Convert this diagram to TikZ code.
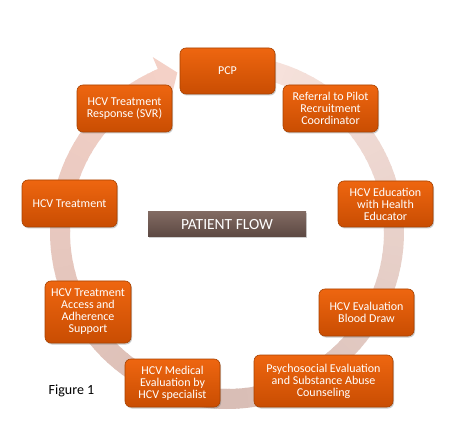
\documentclass[tikz,border=0pt]{standalone}
\usepackage{fontspec}
\setmainfont{Carlito}
\usetikzlibrary{shadows,calc}
\definecolor{ringA}{HTML}{F8E4DE}
\definecolor{ringB}{HTML}{D8BDB5}
\definecolor{ringC}{HTML}{F4D1C7}
\definecolor{boxTop}{HTML}{EE6610}
\definecolor{boxBot}{HTML}{C94D02}
\definecolor{boxEdge}{HTML}{A84200}
\definecolor{pfTop}{HTML}{816A62}
\definecolor{pfBot}{HTML}{5C4842}
\tikzset{
  stepbox/.style={rounded corners=6pt, top color=boxTop, bottom color=boxBot,
    draw=boxEdge, line width=0.6pt, text=white, align=center, inner sep=2pt,
    font=\fontsize{12}{12}\selectfont,
    drop shadow={shadow xshift=1pt, shadow yshift=-1.5pt, opacity=0.35, fill=black!60}},
  titlebox/.style={top color=pfTop, bottom color=pfBot, draw=none, text=white,
    font=\fontsize{15.5}{17}\selectfont, minimum width=158pt, minimum height=25pt,
    drop shadow={shadow xshift=1pt, shadow yshift=-1.5pt, opacity=0.3, fill=black!60}},
  ringseg/.style={line width=20pt}
}
\begin{document}
\begin{tikzpicture}[x=1pt,y=1pt]
\useasboundingbox (0,0) rectangle (454,444);
\fill[white] (0,0) rectangle (454,444);
\coordinate (c) at (227,212);
% ring
\foreach \a in {85,82,...,-90} {
  \pgfmathtruncatemacro\p{(\a+90)/175*100}
  \draw[ringseg, color=ringA!\p!ringB] ([shift={(\a:167)}]c) arc[start angle=\a, end angle=\a-3.6, radius=167];
}
\foreach \a in {-90,-93,...,-243} {
  \pgfmathtruncatemacro\p{(-90-\a)/157*100}
  \draw[ringseg, color=ringC!\p!ringB] ([shift={(\a:167)}]c) arc[start angle=\a, end angle=\a-3.6, radius=167];
}
\draw[ringseg, color=ringC] ([shift={(-245:167)}]c) arc[start angle=-245, end angle=-247.2, radius=167];
\fill[ringC] ($(c)+(113:190)$) -- ($(c)+(107.3:167)$) -- ($(c)+(113:144)$) -- cycle;
% boxes
\node[stepbox, minimum width=95pt, minimum height=46pt] (pcp) at (227.5,373) {PCP};
\node[stepbox, minimum width=95pt, minimum height=47pt] (ref) at (330.5,335.5) {Referral to Pilot\\Recruitment\\Coordinator};
\node[stepbox, minimum width=95pt, minimum height=46pt] (edu) at (385.5,240) {HCV Education\\with Health\\Educator};
\node[stepbox, minimum width=95pt, minimum height=47pt] (blood) at (366.5,131.5) {HCV Evaluation\\Blood Draw};
\node[stepbox, minimum width=139pt, minimum height=52pt] (psy) at (323.5,63) {Psychosocial Evaluation\\and Substance Abuse\\Counseling};
\node[stepbox, minimum width=95pt, minimum height=48pt] (med) at (172.5,61) {HCV Medical\\Evaluation by\\HCV specialist};
\node[stepbox, minimum width=86pt, minimum height=62pt] (acc) at (88,132) {HCV Treatment\\Access and\\Adherence\\Support};
\node[stepbox, minimum width=95pt, minimum height=47pt] (trt) at (69.5,240.5) {HCV Treatment};
\node[stepbox, minimum width=95pt, minimum height=47pt] (svr) at (124.5,335.5) {HCV Treatment\\Response (SVR)};
\node[titlebox] (pf) at (227,219.5) {PATIENT FLOW};
\node[font=\fontsize{14}{16}\selectfont, text=black] (fig) at (71.5,53) {Figure 1};
\end{tikzpicture}
\end{document}
